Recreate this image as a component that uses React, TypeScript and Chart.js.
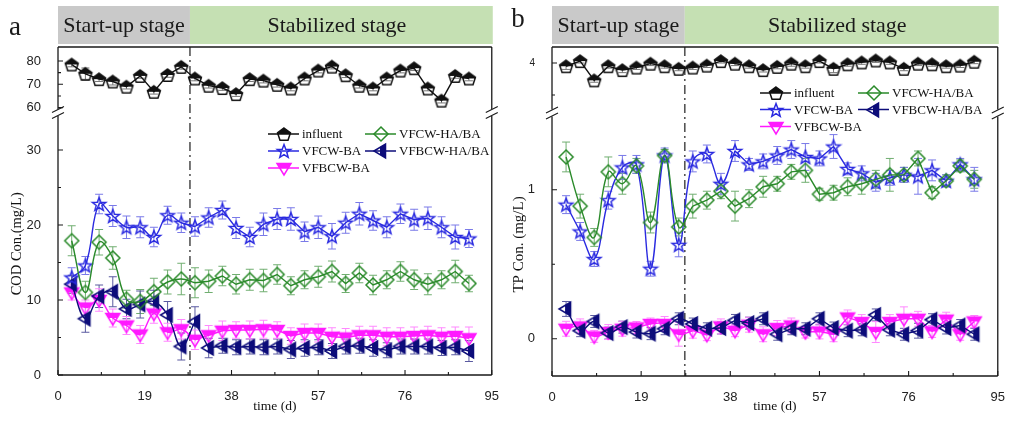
import React, { useEffect, useRef } from 'react';
import { Chart, registerables } from 'chart.js';

Chart.register(...registerables);

// ---------------- data ----------------
const DAYS = [3, 6, 9, 12, 15, 18, 21, 24, 27, 30, 33, 36, 39, 42, 45, 48, 51, 54, 57, 60, 63, 66, 69, 72, 75, 78, 81, 84, 87, 90];
const X_TICKS = [0, 19, 38, 57, 76, 95];
const X_MINOR_TICKS = [9.5, 28.5, 47.5, 66.5, 85.5];
const STAGE_LABELS = ['Start-up stage', 'Stabilized stage'];
const X_TITLE = 'time (d)';

// Panel a : COD
const COD_TOP_TICKS = [60, 70, 80];
const COD_TOP_MINOR = [65, 75];
const COD_BOTTOM_TICKS = [0, 10, 20, 30];
const COD_BOTTOM_MINOR = [5, 15, 25];
const COD_INFLUENT = [78.5, 74.5, 72.2, 71.2, 69, 73.6, 66.8, 74, 77.5, 72.5, 69.4, 68.4, 65.8, 72.2, 71.6, 69.8, 68.2, 72.5, 75.9, 77.6, 73.9, 69.4, 68.2, 72.5, 75.9, 76.9, 68.2, 63, 73.6, 72.5];
const COD_INFLUENT_ERR = [1, 2.5, 1, 1.5, 1, 1, 1, 1, 1, 1, 1, 1, 1, 1, 1, 1, 1, 1, 1, 1, 1, 1, 1, 1, 1, 1, 1, 1, 1, 1];
const COD_VFCW_BA = [13.0, 14.6, 22.8, 21.2, 19.7, 19.7, 18.4, 21.3, 20.3, 19.8, 21.0, 22.0, 19.6, 18.4, 20.1, 20.8, 20.8, 19.1, 19.7, 18.5, 20.3, 21.5, 20.6, 19.7, 21.5, 20.7, 20.9, 19.7, 18.4, 18.2];
const COD_VFCW_BA_ERR = [1.3, 1.2, 1.3, 1.4, 1.5, 1.4, 1.3, 1.2, 1.3, 1.3, 1.3, 1.2, 1.4, 1.3, 1.5, 1.4, 1.5, 1.3, 1.5, 1.7, 1.4, 1.5, 1.3, 1.4, 1.3, 1.4, 1.5, 1.4, 1.6, 1.2];
const COD_VFBCW_BA = [11.0, 9.0, 10.0, 7.6, 6.6, 5.4, 8.2, 5.7, 6.1, 4.7, 5.3, 5.9, 6.0, 6.0, 6.1, 6.0, 5.2, 5.6, 5.6, 5.1, 5.0, 5.3, 5.3, 5.1, 5.1, 5.2, 5.3, 5.1, 5.2, 4.9];
const COD_VFBCW_BA_ERR = [1.0, 1.0, 1.5, 1.2, 1.2, 1.2, 1.3, 1.2, 1.3, 1.3, 1.3, 1.3, 1.1, 1.2, 1.2, 1.1, 1.1, 1.2, 1.2, 1.2, 1.2, 1.2, 1.2, 1.2, 1.2, 1.2, 1.2, 1.2, 1.2, 1.5];
const COD_VFCW_HABA = [17.9, 11.0, 17.7, 15.6, 10.1, 9.8, 11.1, 12.4, 12.8, 12.3, 12.5, 13.2, 12.1, 12.7, 12.6, 13.4, 11.9, 12.7, 13.1, 13.8, 12.2, 13.6, 12.0, 12.7, 13.8, 12.7, 12.1, 12.7, 13.8, 12.2];
const COD_VFCW_HABA_ERR = [2.0, 1.5, 1.7, 1.5, 1.2, 1.6, 1.8, 1.6, 2.1, 2.0, 1.5, 1.3, 1.3, 1.4, 1.5, 1.3, 1.2, 1.2, 1.4, 1.4, 1.2, 1.3, 1.3, 1.2, 1.3, 1.3, 1.4, 1.2, 1.5, 1.1];
const COD_VFBCW_HABA = [12.1, 7.5, 10.5, 11.1, 8.8, 9.4, 9.8, 8.0, 3.8, 7.1, 3.6, 3.9, 3.7, 3.8, 3.7, 3.8, 3.4, 3.6, 3.7, 3.2, 3.8, 3.9, 3.6, 3.3, 3.8, 3.8, 3.8, 3.6, 3.7, 3.2];
const COD_VFBCW_HABA_ERR = [1.2, 1.8, 1.5, 2.0, 1.3, 1.8, 1.5, 1.8, 1.8, 2.0, 1.3, 1.0, 1.0, 1.0, 1.0, 1.0, 1.2, 1.1, 1.0, 1.0, 1.0, 1.0, 1.1, 1.0, 1.0, 1.0, 1.0, 1.0, 1.0, 1.4];

// Panel b : TP
const TP_TOP_TICKS = [4];
const TP_TOP_MINOR = [3.5];
const TP_BOTTOM_TICKS = [0, 1];
const TP_BOTTOM_MINOR = [0.5];
const TP_INFLUENT = [3.95, 4.03, 3.73, 3.95, 3.89, 3.93, 3.99, 3.95, 3.91, 3.93, 3.96, 4.03, 3.99, 3.95, 3.89, 3.94, 3.99, 3.95, 4.03, 3.91, 3.98, 4.01, 4.04, 4.01, 3.91, 3.99, 3.98, 3.95, 3.96, 4.02];
const TP_INFLUENT_ERR = [0.05, 0.03, 0.03, 0.03, 0.04, 0.03, 0.03, 0.03, 0.03, 0.03, 0.03, 0.03, 0.03, 0.03, 0.03, 0.03, 0.04, 0.03, 0.03, 0.06, 0.03, 0.03, 0.03, 0.03, 0.03, 0.03, 0.03, 0.03, 0.03, 0.03];
const TP_VFCW_BA = [0.90, 0.72, 0.535, 0.93, 1.15, 1.17, 0.47, 1.23, 0.63, 1.19, 1.24, 1.04, 1.26, 1.17, 1.19, 1.23, 1.27, 1.22, 1.21, 1.29, 1.14, 1.11, 1.05, 1.08, 1.10, 1.09, 1.13, 1.06, 1.17, 1.07];
const TP_VFCW_BA_ERR = [0.06, 0.06, 0.05, 0.06, 0.08, 0.06, 0.05, 0.05, 0.08, 0.07, 0.06, 0.07, 0.07, 0.04, 0.05, 0.06, 0.06, 0.09, 0.05, 0.08, 0.04, 0.05, 0.06, 0.05, 0.05, 0.12, 0.07, 0.04, 0.04, 0.08];
const TP_VFBCW_BA = [0.067, 0.083, 0.016, 0.045, 0.067, 0.076, 0.099, 0.099, 0.03, 0.054, 0.027, 0.083, 0.054, 0.094, 0.03, 0.072, 0.089, 0.045, 0.049, 0.03, 0.143, 0.112, 0.045, 0.112, 0.134, 0.134, 0.049, 0.128, 0.03, 0.116];
const TP_VFBCW_BA_ERR = [0.05, 0.05, 0.04, 0.05, 0.05, 0.04, 0.04, 0.05, 0.08, 0.05, 0.04, 0.05, 0.04, 0.05, 0.05, 0.05, 0.05, 0.04, 0.05, 0.05, 0.05, 0.05, 0.07, 0.05, 0.08, 0.05, 0.04, 0.05, 0.04, 0.04];
const TP_VFCW_HABA = [1.22, 0.89, 0.68, 1.12, 1.04, 1.16, 0.78, 1.23, 0.75, 0.89, 0.93, 0.99, 0.89, 0.94, 1.02, 1.04, 1.12, 1.13, 0.97, 0.98, 1.02, 1.04, 1.07, 1.10, 1.10, 1.21, 0.98, 1.06, 1.16, 1.07];
const TP_VFCW_HABA_ERR = [0.1, 0.08, 0.06, 0.1, 0.07, 0.05, 0.07, 0.04, 0.06, 0.08, 0.06, 0.05, 0.1, 0.06, 0.07, 0.05, 0.05, 0.08, 0.04, 0.05, 0.06, 0.07, 0.06, 0.11, 0.05, 0.05, 0.04, 0.04, 0.04, 0.06];
const TP_VFBCW_HABA = [0.20, 0.054, 0.116, 0.038, 0.078, 0.045, 0.034, 0.067, 0.134, 0.099, 0.067, 0.072, 0.123, 0.105, 0.134, 0.03, 0.067, 0.067, 0.134, 0.072, 0.054, 0.06, 0.16, 0.06, 0.03, 0.054, 0.128, 0.072, 0.089, 0.03];
const TP_VFBCW_HABA_ERR = [0.05, 0.04, 0.04, 0.04, 0.04, 0.04, 0.04, 0.04, 0.04, 0.04, 0.04, 0.04, 0.04, 0.04, 0.04, 0.04, 0.04, 0.04, 0.04, 0.04, 0.04, 0.04, 0.04, 0.04, 0.04, 0.05, 0.04, 0.04, 0.04, 0.04];

// ---------------- styles ----------------
const STYLES: Record<string, { color: string; err: string; marker: string }> = {
  'influent': { color: '#111111', err: '#777777', marker: 'pentagon' },
  'VFCW-BA': { color: '#2a2ae0', err: '#7a7ae8', marker: 'star' },
  'VFBCW-BA': { color: '#ff1aff', err: '#ff88ff', marker: 'triDown' },
  'VFCW-HA/BA': { color: '#2a8a2a', err: '#70ae70', marker: 'diamond' },
  'VFBCW-HA/BA': { color: '#0d0d7a', err: '#5a5aa0', marker: 'triLeft' },
};

const LEGEND_GRID = [
  ['influent', 'VFCW-HA/BA'],
  ['VFCW-BA', 'VFBCW-HA/BA'],
  ['VFBCW-BA'],
];

const PANEL_A = {
  letter: 'a', letterX: 15, letterY: 35,
  split: 28.9,
  yTitle: 'COD Con.(mg/L)',
  top: { min: 57.9, max: 86, ticks: COD_TOP_TICKS, minor: COD_TOP_MINOR, weight: 65.5, font: 13 },
  bot: { min: 0, max: 35, ticks: COD_BOTTOM_TICKS, minor: COD_BOTTOM_MINOR, weight: 262.5, font: 13 },
  canvasLeft: 0, canvasWidth: 505,
  yAxisWidth: 58, padRight: 7, padTop: 47, xAxisHeight: 46, titlePad: 8, titleSize: 14.5,
  legendX: [268, 365], legendY: [134, 151, 168],
  series: [
    { label: 'influent', values: COD_INFLUENT, errors: COD_INFLUENT_ERR, axis: 'yTop', smoothEnd: 0 },
    { label: 'VFCW-HA/BA', values: COD_VFCW_HABA, errors: COD_VFCW_HABA_ERR, axis: 'y', smoothEnd: 9 },
    { label: 'VFCW-BA', values: COD_VFCW_BA, errors: COD_VFCW_BA_ERR, axis: 'y', smoothEnd: 9 },
    { label: 'VFBCW-HA/BA', values: COD_VFBCW_HABA, errors: COD_VFBCW_HABA_ERR, axis: 'y', smoothEnd: 9 },
    { label: 'VFBCW-BA', values: COD_VFBCW_BA, errors: COD_VFBCW_BA_ERR, axis: 'y', smoothEnd: 9 },
  ],
};

const PANEL_B = {
  letter: 'b', letterX: 13, letterY: 27,
  split: 28.3,
  yTitle: 'TP Con. (mg/L)',
  top: { min: 3.22, max: 4.25, ticks: TP_TOP_TICKS, minor: TP_TOP_MINOR, weight: 66, font: 10 },
  bot: { min: -0.25, max: 1.515, ticks: TP_BOTTOM_TICKS, minor: TP_BOTTOM_MINOR, weight: 263, font: 13 },
  canvasLeft: 505, canvasWidth: 506,
  yAxisWidth: 47, padRight: 11, padTop: 47, xAxisHeight: 45, titlePad: 5, titleSize: 15,
  legendX: [255, 353], legendY: [93, 109.5, 126.5],
  series: [
    { label: 'influent', values: TP_INFLUENT, errors: TP_INFLUENT_ERR, axis: 'yTop', smoothEnd: 0 },
    { label: 'VFCW-HA/BA', values: TP_VFCW_HABA, errors: TP_VFCW_HABA_ERR, axis: 'y', smoothEnd: 9 },
    { label: 'VFCW-BA', values: TP_VFCW_BA, errors: TP_VFCW_BA_ERR, axis: 'y', smoothEnd: 12 },
    { label: 'VFBCW-HA/BA', values: TP_VFBCW_HABA, errors: TP_VFBCW_HABA_ERR, axis: 'y', smoothEnd: 9 },
    { label: 'VFBCW-BA', values: TP_VFBCW_BA, errors: TP_VFBCW_BA_ERR, axis: 'y', smoothEnd: 9 },
  ],
};

// ---------------- markers ----------------
function makeMarker(kind: string, color: string): HTMLCanvasElement {
  const size = 18;
  const c = document.createElement('canvas');
  c.width = size;
  c.height = size;
  const g = c.getContext('2d') as CanvasRenderingContext2D;
  const cx = size / 2;
  const cy = size / 2;
  const p = new Path2D();
  let half: string | null = null;
  if (kind === 'pentagon') {
    const r = 6.8;
    for (let i = 0; i < 5; i++) {
      const a = -Math.PI / 2 + (i * 2 * Math.PI) / 5;
      const x = cx + r * Math.cos(a);
      const y = cy + 0.8 + r * Math.sin(a);
      if (i === 0) p.moveTo(x, y); else p.lineTo(x, y);
    }
    p.closePath();
    half = 'top';
  } else if (kind === 'star') {
    const R = 7.1;
    const r = 3.0;
    for (let i = 0; i < 10; i++) {
      const a = -Math.PI / 2 + (i * Math.PI) / 5;
      const rr = i % 2 ? r : R;
      const x = cx + rr * Math.cos(a);
      const y = cy + 0.6 + rr * Math.sin(a);
      if (i === 0) p.moveTo(x, y); else p.lineTo(x, y);
    }
    p.closePath();
  } else if (kind === 'diamond') {
    p.moveTo(cx, cy - 7);
    p.lineTo(cx + 7, cy);
    p.lineTo(cx, cy + 7);
    p.lineTo(cx - 7, cy);
    p.closePath();
  } else if (kind === 'triDown') {
    p.moveTo(cx - 7, cy - 4.5);
    p.lineTo(cx + 7, cy - 4.5);
    p.lineTo(cx, cy + 7);
    p.closePath();
    half = 'top';
  } else {
    p.moveTo(cx - 7, cy);
    p.lineTo(cx + 4.5, cy - 7);
    p.lineTo(cx + 4.5, cy + 7);
    p.closePath();
    half = 'right';
  }
  if (half) {
    g.save();
    g.beginPath();
    if (half === 'top') g.rect(0, 0, size, cy); else g.rect(cx - 1, 0, size, size);
    g.clip();
    g.fillStyle = color;
    g.fill(p);
    g.restore();
  }
  g.lineWidth = 1.5;
  g.strokeStyle = color;
  g.lineJoin = 'miter';
  g.stroke(p);
  return c;
}

// ---------------- plugin ----------------
function makeDeco(def: any, markers: Record<string, HTMLCanvasElement>) {
  return {
    id: 'deco',
    beforeDatasetsDraw(chart: any) {
      const { ctx, chartArea, scales } = chart;
      const xs = scales.x.getPixelForValue(def.split);
      ctx.save();
      ctx.strokeStyle = '#555555';
      ctx.lineWidth = 1.6;
      ctx.setLineDash([9, 4, 2, 4]);
      ctx.beginPath();
      ctx.moveTo(xs, chartArea.top);
      ctx.lineTo(xs, chartArea.bottom);
      ctx.stroke();
      ctx.restore();

      // error bars
      ctx.save();
      ctx.lineWidth = 1;
      chart.data.datasets.forEach((ds: any, i: number) => {
        if (!ds.errors) return;
        const meta = chart.getDatasetMeta(i);
        const ys = scales[meta.yAxisID];
        ctx.strokeStyle = ds.errColor;
        ctx.beginPath();
        ds.data.forEach((pt: any, j: number) => {
          const e = ds.errors[j];
          const x = scales.x.getPixelForValue(pt.x);
          const y1 = ys.getPixelForValue(pt.y + e);
          const y0 = ys.getPixelForValue(pt.y - e);
          ctx.moveTo(x, y0);
          ctx.lineTo(x, y1);
          ctx.moveTo(x - 4, y0);
          ctx.lineTo(x + 4, y0);
          ctx.moveTo(x - 4, y1);
          ctx.lineTo(x + 4, y1);
        });
        ctx.stroke();
      });
      ctx.restore();
    },
    afterDraw(chart: any) {
      const { ctx, chartArea, scales } = chart;
      const { left, right, top, bottom } = chartArea;
      const yb = scales.y.top;
      ctx.save();
      // frame
      ctx.strokeStyle = '#1a1a1a';
      ctx.lineWidth = 1.3;
      ctx.beginPath();
      ctx.moveTo(left, top); ctx.lineTo(right, top);
      ctx.moveTo(left, bottom); ctx.lineTo(right, bottom);
      for (const X of [left, right]) {
        ctx.moveTo(X, top); ctx.lineTo(X, yb - 3.5);
        ctx.moveTo(X, yb + 3.5); ctx.lineTo(X, bottom);
      }
      ctx.stroke();
      // break marks
      ctx.lineWidth = 1.1;
      ctx.beginPath();
      for (const X of [left, right]) {
        for (const o of [-3, 3]) {
          ctx.moveTo(X - 6, yb + o + 3);
          ctx.lineTo(X + 6, yb + o - 3);
        }
      }
      ctx.stroke();
      // inward ticks
      ctx.beginPath();
      const yTicks = (axis: any, list: number[], len: number) => {
        list.forEach((v) => {
          const py = axis.getPixelForValue(v);
          ctx.moveTo(left, py);
          ctx.lineTo(left + len, py);
        });
      };
      yTicks(scales.y, def.bot.ticks, 5);
      yTicks(scales.y, def.bot.minor, 3);
      yTicks(scales.yTop, def.top.ticks, 5);
      yTicks(scales.yTop, def.top.minor, 3);
      X_TICKS.forEach((v) => {
        const px = scales.x.getPixelForValue(v);
        ctx.moveTo(px, bottom);
        ctx.lineTo(px, bottom - 5);
      });
      X_MINOR_TICKS.forEach((v) => {
        const px = scales.x.getPixelForValue(v);
        ctx.moveTo(px, bottom);
        ctx.lineTo(px, bottom - 3);
      });
      ctx.stroke();

      // stage header
      const xs = scales.x.getPixelForValue(def.split);
      const hTop = top - 41;
      const hH = 38;
      ctx.fillStyle = '#c9c9c9';
      ctx.fillRect(left, hTop, xs - left, hH);
      ctx.fillStyle = '#c5e0b3';
      ctx.fillRect(xs, hTop, right + 1 - xs, hH);
      ctx.fillStyle = '#1a1a1a';
      ctx.font = '22px "Liberation Serif"';
      ctx.textAlign = 'center';
      ctx.textBaseline = 'middle';
      ctx.fillText(STAGE_LABELS[0], (left + xs) / 2, hTop + hH / 2 + 1);
      ctx.fillText(STAGE_LABELS[1], (xs + right) / 2 - 4, hTop + hH / 2 + 1);

      // panel letter
      ctx.font = '27px "Liberation Serif"';
      ctx.textBaseline = 'alphabetic';
      ctx.fillText(def.letter, def.letterX, def.letterY);

      // legend
      ctx.font = '13px "Liberation Serif"';
      ctx.textAlign = 'left';
      ctx.textBaseline = 'middle';
      LEGEND_GRID.forEach((row, r) => {
        row.forEach((label, c) => {
          const st = STYLES[label];
          const x0 = def.legendX[c];
          const y0 = def.legendY[r];
          ctx.strokeStyle = st.color;
          ctx.lineWidth = 1.5;
          ctx.beginPath();
          ctx.moveTo(x0, y0);
          ctx.lineTo(x0 + 31, y0);
          ctx.stroke();
          const m = markers[label];
          ctx.drawImage(m, Math.round(x0 + 15.5 - m.width / 2), Math.round(y0 - m.height / 2));
          ctx.fillStyle = '#111111';
          ctx.fillText(label, x0 + 34, y0 + 1);
        });
      });
      ctx.restore();
    },
  };
}

function buildConfig(def: any): any {
  const markers: Record<string, HTMLCanvasElement> = {};
  Object.keys(STYLES).forEach((k) => {
    markers[k] = makeMarker(STYLES[k].marker, STYLES[k].color);
  });
  const datasets: any[] = [];
  def.series.forEach((s: any) => {
    const st = STYLES[s.label];
    const pts = DAYS.map((d, i) => ({ x: d, y: s.values[i] }));
    const end = s.smoothEnd;
    datasets.push({
      label: s.label,
      data: pts,
      yAxisID: s.axis,
      borderColor: st.color,
      backgroundColor: st.color,
      borderWidth: 1.4,
      pointStyle: markers[s.label],
      pointRadius: 7,
      tension: 0,
      errors: s.errors,
      errColor: st.err,
      segment: end > 0 ? { borderColor: (ctx: any) => (ctx.p1DataIndex <= end ? 'rgba(0,0,0,0)' : undefined) } : undefined,
    });
    if (end > 0) {
      datasets.push({
        label: s.label + ' (start-up)',
        data: pts.slice(0, end + 1),
        yAxisID: s.axis,
        borderColor: st.color,
        borderWidth: 1.4,
        pointRadius: 0,
        tension: 0.4,
      });
    }
  });

  const tickFont = (size: number) => ({ family: '"Liberation Sans", Arial, sans-serif', size });
  const yWidth = (s: any) => { s.width = def.yAxisWidth; };

  return {
    type: 'line',
    data: { datasets },
    options: {
      responsive: false,
      animation: false,
      devicePixelRatio: 1,
      events: [],
      layout: { padding: { left: 0, right: def.padRight, top: def.padTop, bottom: 0 } },
      plugins: { legend: { display: false }, tooltip: { enabled: false } },
      scales: {
        x: {
          type: 'linear',
          min: 0,
          max: 95,
          grid: { display: false },
          border: { display: false },
          afterBuildTicks: (axis: any) => { axis.ticks = X_TICKS.map((v) => ({ value: v })); },
          afterFit: (s: any) => { s.height = def.xAxisHeight; },
          ticks: { autoSkip: false, maxRotation: 0, padding: 6, color: '#222', font: tickFont(13), callback: (v: any) => String(v) },
          title: { display: true, text: X_TITLE, color: '#111', font: { family: '"Liberation Serif"', size: 13.5 }, padding: { top: 0, bottom: 6 } },
        },
        y: {
          type: 'linear',
          position: 'left',
          stack: 'panel',
          stackWeight: def.bot.weight,
          min: def.bot.min,
          max: def.bot.max,
          grid: { display: false },
          border: { display: false },
          afterBuildTicks: (axis: any) => { axis.ticks = def.bot.ticks.map((v: number) => ({ value: v })); },
          afterFit: yWidth,
          ticks: { padding: 9, color: '#222', font: tickFont(def.bot.font), callback: (v: any) => String(v) },
          title: { display: true, text: def.yTitle, color: '#111', font: { family: '"Liberation Serif"', size: def.titleSize }, padding: { top: def.titlePad, bottom: 0 } },
        },
        yTop: {
          type: 'linear',
          position: 'left',
          stack: 'panel',
          stackWeight: def.top.weight,
          min: def.top.min,
          max: def.top.max,
          grid: { display: false },
          border: { display: false },
          afterBuildTicks: (axis: any) => { axis.ticks = def.top.ticks.map((v: number) => ({ value: v })); },
          afterFit: yWidth,
          ticks: { padding: 9, color: '#222', font: tickFont(def.top.font), callback: (v: any) => String(v) },
        },
      },
    },
    plugins: [makeDeco(def, markers)],
  };
}

function Panel({ def }: { def: any }) {
  const ref = useRef<HTMLCanvasElement>(null);
  useEffect(() => {
    const chart = new Chart(ref.current as HTMLCanvasElement, buildConfig(def));
    return () => chart.destroy();
  }, [def]);
  return (
    <canvas
      ref={ref}
      width={def.canvasWidth}
      height={421}
      style={{ position: 'absolute', left: def.canvasLeft, top: 0, width: def.canvasWidth, height: 421 }}
    />
  );
}

export default function App() {
  return (
    <div style={{ position: 'absolute', left: 0, top: 0, width: 1011, height: 421, background: '#ffffff', overflow: 'hidden' }}>
      <Panel def={PANEL_A} />
      <Panel def={PANEL_B} />
    </div>
  );
}
